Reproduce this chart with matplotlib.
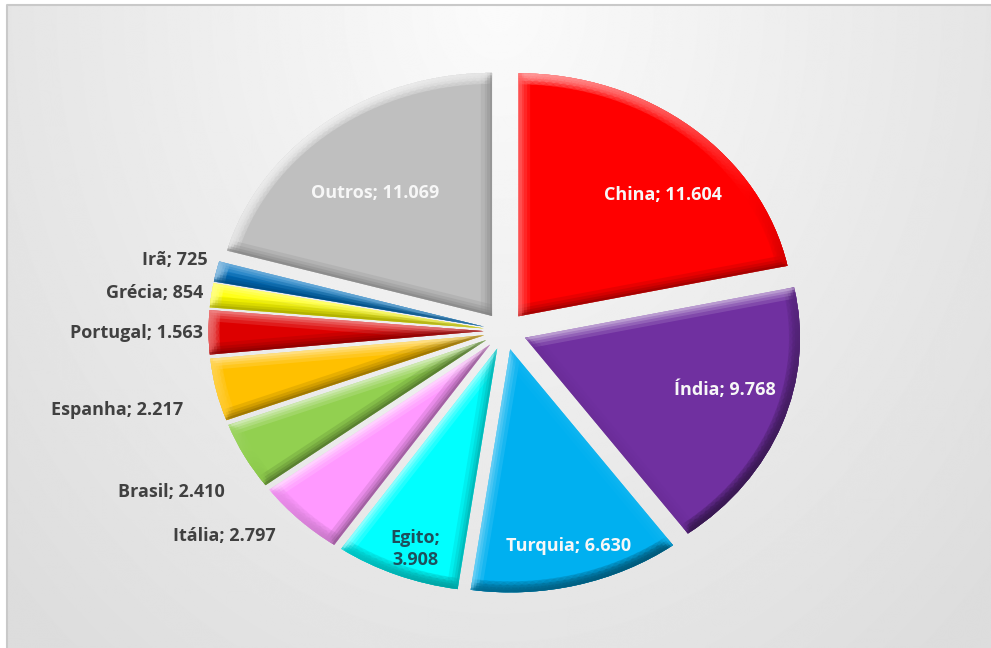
import numpy as np
import matplotlib
matplotlib.use("Agg")
import matplotlib.pyplot as plt
from matplotlib.collections import LineCollection
from matplotlib.colors import to_rgb

paises = ["China", "Índia", "Turquia", "Egito", "Itália", "Brasil",
          "Espanha", "Portugal", "Grécia", "Irã", "Outros"]
producao = [11604, 9768, 6630, 3908, 2797, 2410, 2217, 1563, 854, 725, 11069]
cores = ["#ff0000", "#7030a0", "#00b0f0", "#00ffff", "#ff99ff", "#92d050",
         "#ffc000", "#dd0000", "#ffff00", "#0070c0", "#bfbfbf"]

# rotulo dentro da fatia ou fora, e deslocamento (px) a partir do ponto na bissetriz
dentro = [True, True, True, True, False, False, False, False, False, False, True]
desloc = [(19, -15), (14, 10), (10, -26), (-9, -37), (-19, -13), (-15, -33),
          (-27, -19), (0, -1), (-2, 2), (-3, 10), (3, -17)]

W, H = 991, 648
SX, SY = 275, 243      # pixels por unidade em x e y (pizza levemente achatada)
CX, CY = 505, 331      # centro da pizza em pixels

plt.rcParams["font.family"] = ["Open Sans", "DejaVu Sans"]

fig = plt.figure(figsize=(W / 100, H / 100), dpi=100)
fig.patch.set_facecolor("white")

# fundo com degrade claro
bg = fig.add_axes([0, 0, 1, 1])
yy, xx = np.mgrid[0:H, 0:W]
d = np.sqrt(((xx - 495) / 560.0) ** 2 + (yy / 700.0) ** 2)
grad = 251 - 25 * np.clip(d, 0, 1.2)
bg.imshow(grad, cmap="gray", vmin=0, vmax=255, extent=(7, W, H, 5),
          aspect="auto", interpolation="bilinear")
bg.plot([7, 7, W], [H, 5, 5], color="#c9c9c9", lw=1.5)
bg.set_xlim(0, W)
bg.set_ylim(H, 0)
bg.axis("off")

ax = fig.add_axes([0, 0, 1, 1])
ax.patch.set_alpha(0)
wedges, _ = ax.pie(producao, colors=cores, startangle=90, counterclock=False,
                   explode=[0.078] * len(producao), radius=1,
                   wedgeprops=dict(linewidth=0))
ax.set_aspect("auto")
ax.set_xlim(-CX / SX, (W - CX) / SX)
ax.set_ylim(-(H - CY) / SY, CY / SY)
ax.axis("off")

luz = np.array([-0.55, 0.83])
luz = luz / np.linalg.norm(luz)


def bisel(w, cor):
    cx, cy = w.center
    t1, t2 = w.theta1, w.theta2
    n = max(int((t2 - t1) / 1.5), 4)
    ang = np.radians(np.linspace(t1, t2, n + 1))
    pts = [(cx, cy)] + [(cx + w.r * np.cos(a), cy + w.r * np.sin(a)) for a in ang] + [(cx, cy)]
    base = np.array(to_rgb(cor))
    segs, cols = [], []
    for p, q in zip(pts[:-1], pts[1:]):
        dx = (q[0] - p[0]) * SX
        dy = (q[1] - p[1]) * SY
        comp = np.hypot(dx, dy)
        if comp == 0:
            continue
        nrm = np.array([dy, -dx]) / comp
        k = float(nrm @ luz)
        if k > 0:
            c = base + (1 - base) * 0.75 * k
        else:
            c = base * (1 - 0.5 * (-k))
        segs.append([p, q])
        cols.append(np.clip(c, 0, 1))
    # camadas sobrepostas para um chanfro suave
    for lw, a in [(16, 0.18), (11, 0.22), (7, 0.3), (3.5, 0.45)]:
        lc = LineCollection(segs, colors=cols, linewidths=lw, alpha=a,
                            capstyle="round", joinstyle="round")
        lc.set_clip_path(w)
        ax.add_collection(lc)


for w, c in zip(wedges, cores):
    bisel(w, c)

for i, w in enumerate(wedges):
    valor = f"{producao[i]:,}".replace(",", ".")
    bis = np.radians((w.theta1 + w.theta2) / 2)
    if dentro[i]:
        r = 0.8
        ha = "center"
        cor_txt = "#1e4f5c" if paises[i] == "Egito" else "#f7f7f7"
        texto = f"{paises[i]};\n{valor}" if paises[i] == "Egito" else f"{paises[i]}; {valor}"
    else:
        r = 1.1
        ha = "right"
        cor_txt = "#404040"
        texto = f"{paises[i]}; {valor}"
    ax.annotate(texto, xy=(r * np.cos(bis), r * np.sin(bis)),
                xytext=desloc[i], textcoords="offset pixels",
                ha=ha, va="center", fontsize=13, fontweight="bold",
                color=cor_txt, linespacing=1.35)

fig.savefig("out.png", dpi=100)
